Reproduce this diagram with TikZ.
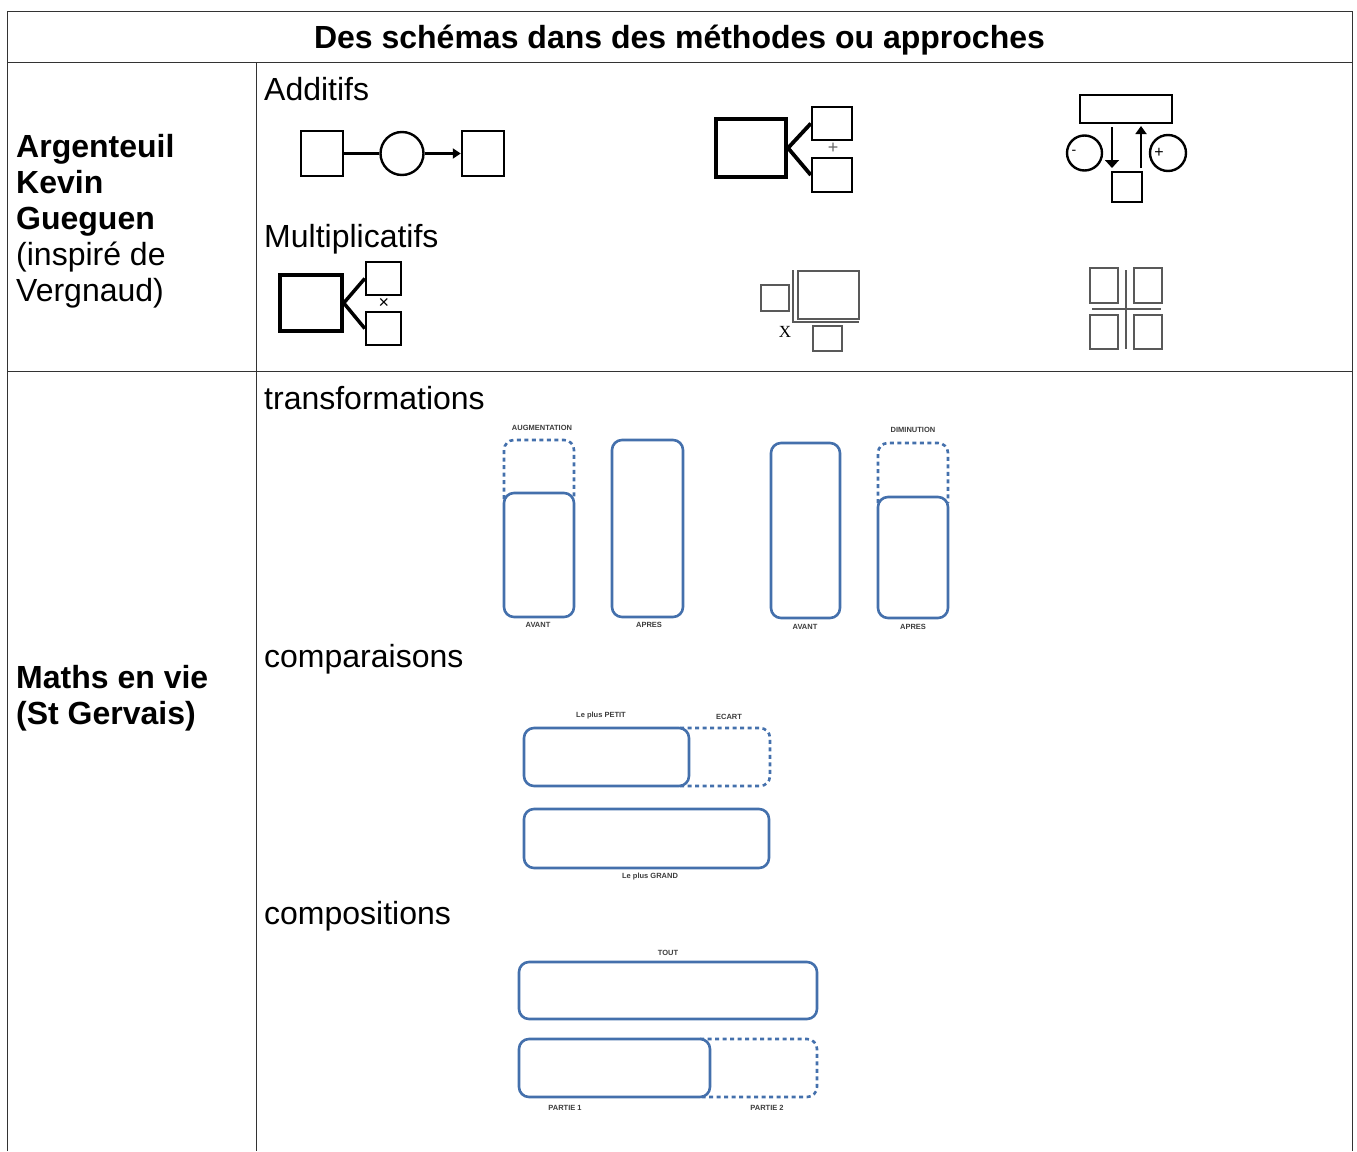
\documentclass[tikz,border=0pt]{standalone}
\usepackage{fontspec}
\setmainfont{Liberation Sans}
\newfontfamily\serifx{Liberation Serif}
\usetikzlibrary{arrows.meta}
\definecolor{myblue}{RGB}{68,112,172}
\definecolor{lblgray}{RGB}{60,60,60}
\tikzset{
  big/.style={font=\fontsize{32}{36}\selectfont, inner sep=0, anchor=base west, align=left},
  sq/.style={draw=black, line width=2.4, inner sep=0, fill=white},
  gsq/.style={draw=black!65, line width=1.6, inner sep=0, fill=white},
  bbox/.style={draw=myblue, line width=2.6, rounded corners=10, inner sep=0, fill=white},
  dsh/.style={draw=myblue, line width=2.6, dash pattern=on 4 off 3.5, rounded corners=10},
  lbl/.style={font=\fontsize{7.5}{9}\selectfont\bfseries, text=lblgray, inner sep=0},
  grid/.style={draw=black!80, line width=1},
}
\begin{document}
\begin{tikzpicture}[x=1pt,y=-1pt]
\useasboundingbox (0,0) rectangle (1357,1151);
% table
\draw[grid] (7,1151) -- (7,11) -- (1352,11) -- (1352,1151);
\draw[grid] (7,62) -- (1352,62);
\draw[grid] (7,371) -- (1352,371);
\draw[grid] (256,62) -- (256,1151);
% texts
\node[big, anchor=base, font=\fontsize{32}{36}\selectfont\bfseries] (title) at (679.5,48) {Des schémas dans des méthodes ou approches};
\node[big] (who1) at (16,301) {\textbf{Argenteuil}\\\textbf{Kevin}\\\textbf{Gueguen}\\(inspiré de\\Vergnaud)};
\node[big] (who2) at (16,724) {\textbf{Maths en vie}\\\textbf{(St Gervais)}};
\node[big] (t1) at (264,100) {Additifs};
\node[big] (t2) at (264,247) {Multiplicatifs};
\node[big] (t3) at (264,409) {transformations};
\node[big] (t4) at (264,667) {comparaisons};
\node[big] (t5) at (264,924) {compositions};
% diagram 1
\node[sq, minimum width=42, minimum height=45] (d1a) at (322,153.5) {};
\node[sq, circle, minimum size=43] (d1c) at (402,153.5) {};
\node[sq, minimum width=42, minimum height=45] (d1b) at (483,153.5) {};
\draw[line width=2.4] (d1a) -- (d1c);
\draw[line width=2.4, -{Triangle[length=8,width=10]}] (d1c) -- (d1b);
% diagram 2
\node[sq, line width=4, minimum width=70, minimum height=58] (d2big) at (751,148) {};
\node[sq, minimum width=40, minimum height=33] (d2t) at (832,123.5) {};
\node[sq, minimum width=40, minimum height=34] (d2b) at (832,175) {};
\draw[line width=3.8] (d2big.east) -- (d2t.west);
\draw[line width=3.8] (d2big.east) -- (d2b.west);
\node[inner sep=0, text=black!60, font=\fontsize{18}{18}\selectfont] (d2p) at (833,148) {+};
% diagram 3
\node[sq, line width=2.6, minimum width=92, minimum height=28] (d3top) at (1126,109) {};
\node[sq, circle, minimum size=35] (d3l) at (1084.5,153) {};
\node[sq, circle, minimum size=36] (d3r) at (1168,153) {};
\node[sq, minimum size=30] (d3sq) at (1127,187) {};
\node[inner sep=0, font=\fontsize{14}{14}\selectfont] (d3m) at (1074,152) {-};
\node[inner sep=0, font=\fontsize{16}{16}\selectfont] (d3p) at (1159,153) {+};
\coordinate (d3a1) at (1112,127);
\coordinate (d3a2) at (1112,168);
\coordinate (d3b1) at (1141,168);
\coordinate (d3b2) at (1141,126);
\draw[line width=1.8, -{Triangle[length=8,width=14]}] (d3a1) -- (d3a2);
\draw[line width=1.8, -{Triangle[length=8,width=11]}] (d3b1) -- (d3b2);
% diagram 4
\node[sq, line width=3.5, minimum width=62, minimum height=56] (d4big) at (311,303) {};
\node[sq, minimum width=35, minimum height=33] (d4t) at (383.5,278.5) {};
\node[sq, minimum width=35, minimum height=33] (d4b) at (383.5,328.5) {};
\draw[line width=3.5] (d4big.east) -- (d4t.west);
\draw[line width=3.5] (d4big.east) -- (d4b.west);
\node[inner sep=0, font=\fontsize{18}{18}\selectfont] (d4x) at (384,303) {×};
% diagram 5
\node[gsq, minimum width=28, minimum height=26] (d5l) at (775,298) {};
\node[gsq, minimum width=61, minimum height=48] (d5big) at (828.5,295) {};
\node[gsq, minimum width=29, minimum height=25] (d5b) at (827.5,338.5) {};
\coordinate (d5v) at (793,270);
\coordinate (d5c) at (793,322);
\coordinate (d5h) at (859,322);
\draw[draw=black!65, line width=1.3] (d5v) -- (d5c) -- (d5h);
\node[inner sep=0, font=\serifx\fontsize{17}{17}\selectfont] (d5x) at (785,332) {X};
% diagram 6
\node[gsq, minimum width=28, minimum height=35] (d6a) at (1104,285.5) {};
\node[gsq, minimum width=28, minimum height=35] (d6b) at (1148,285.5) {};
\node[gsq, minimum width=28, minimum height=34] (d6c) at (1104,332) {};
\node[gsq, minimum width=28, minimum height=34] (d6d) at (1148,332) {};
\coordinate (d6v1) at (1126,270);
\coordinate (d6v2) at (1126,349);
\coordinate (d6h1) at (1092,309);
\coordinate (d6h2) at (1161,309);
\draw[draw=black!65, line width=1.6] (d6v1) -- (d6v2);
\draw[draw=black!65, line width=1.6] (d6h1) -- (d6h2);
% transformations
\draw[dsh] (504,499) -- (504,440) -- (574,440) -- (574,499);
\node[bbox, minimum width=70, minimum height=124] (av1) at (539,555) {};
\node[bbox, minimum width=71, minimum height=177] (ap1) at (647.5,528.5) {};
\node[lbl] (laug) at (542,428) {AUGMENTATION};
\node[lbl] (lav1) at (538,625) {AVANT};
\node[lbl] (lap1) at (649,625) {APRES};
\draw[dsh] (878,503) -- (878,443) -- (948,443) -- (948,503);
\node[bbox, minimum width=69, minimum height=175] (av2) at (805.5,530.5) {};
\node[bbox, minimum width=70, minimum height=121] (ap2) at (913,557.5) {};
\node[lbl] (ldim) at (913,430) {DIMINUTION};
\node[lbl] (lav2) at (805,627) {AVANT};
\node[lbl] (lap2) at (913,627) {APRES};
% comparaisons
\draw[dsh] (680,728) -- (770,728) -- (770,786) -- (680,786);
\node[bbox, minimum width=165, minimum height=58] (petit) at (606.5,757) {};
\node[bbox, minimum width=245, minimum height=59] (grand) at (646.5,838.5) {};
\node[lbl] (lpetit) at (601,716) {Le plus PETIT};
\node[lbl] (lecart) at (729,717) {ECART};
\node[lbl] (lgrand) at (650,877) {Le plus GRAND};
% compositions
\node[bbox, minimum width=298, minimum height=57] (tout) at (668,990.5) {};
\draw[dsh] (700,1039) -- (817,1039) -- (817,1097) -- (700,1097);
\node[bbox, minimum width=191, minimum height=58] (p1) at (614.5,1068) {};
\node[lbl] (ltout) at (668,953) {TOUT};
\node[lbl] (lp1) at (565,1108) {PARTIE 1};
\node[lbl] (lp2) at (767,1108) {PARTIE 2};
\end{tikzpicture}
\end{document}
